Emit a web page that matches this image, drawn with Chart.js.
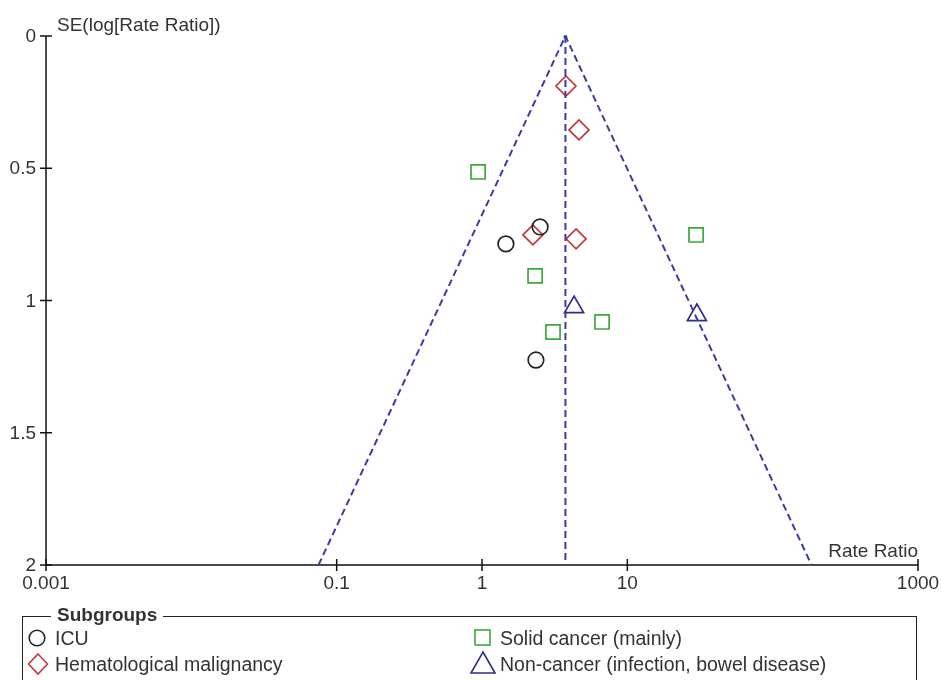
<!DOCTYPE html>
<html>
<head>
<meta charset="utf-8">
<script src="https://cdn.jsdelivr.net/npm/chart.js@4.4.1/dist/chart.umd.min.js"></script>
<style>
  body { margin: 0; background: #fff; font-family: Arial, "Liberation Sans", sans-serif; }
  #wrap { position: relative; width: 941px; height: 680px; overflow: hidden; }
  #legendBox { position: absolute; left: 22px; top: 616px; width: 895px; height: 80px; border: 1.5px solid #222; box-sizing: border-box; }
  #legendTitle { position: absolute; left: 51px; top: 604px; padding: 0 6px; background: #fff; font-weight: bold; font-size: 19px; color: #333; line-height: 22px; }
  .item { position: absolute; font-size: 19.5px; color: #333; line-height: 22px; white-space: nowrap; }
  .item svg { position: absolute; }
</style>
</head>
<body>
<div id="wrap">
  <canvas id="funnel" width="941" height="680"></canvas>
  <div id="legendBox"></div>
  <div id="legendTitle">Subgroups</div>
  <div class="item" style="left:55px; top:627px;"><svg width="20" height="20" style="left:-28px; top:1px;"><circle cx="10" cy="10" r="7.8" fill="none" stroke="#222" stroke-width="1.6"/></svg>ICU</div>
  <div class="item" style="left:55px; top:653px;"><svg width="24" height="24" style="left:-29px; top:-1px;"><path d="M12 2 L21.5 12 L12 22 L2.5 12 Z" fill="none" stroke="#c0393b" stroke-width="1.6"/></svg>Hematological malignancy</div>
  <div class="item" style="left:500px; top:627px;"><svg width="22" height="22" style="left:-28px; top:0px;"><rect x="3" y="3" width="15" height="15" fill="none" stroke="#3aaa3a" stroke-width="1.6"/></svg>Solid cancer (mainly)</div>
  <div class="item" style="left:500px; top:653px;"><svg width="28" height="26" style="left:-31px; top:-3px;"><path d="M14 2 L26 23 L2 23 Z" fill="none" stroke="#2e2e8c" stroke-width="1.6"/></svg>Non-cancer (infection, bowel disease)</div>
</div>
<script>
// funnel plot: rate ratio (x, log) vs SE of log rate ratio (y, reversed)
const icuRR = [2.51, 1.46, 2.35];
const icuSE = [0.722, 0.786, 1.225];
const hemRR = [3.78, 4.65, 2.24, 4.44];
const hemSE = [0.189, 0.355, 0.752, 0.767];
const solidRR = [0.94, 29.7, 2.32, 3.08, 6.70];
const solidSE = [0.514, 0.752, 0.907, 1.119, 1.081];
const nonRR = [4.30, 30.1];
const nonSE = [1.025, 1.055];

// pseudo confidence limits
const funnelRR = [0.075, 3.75, 185];
const funnelSE = [2, 0, 2];
const pooledRR = [3.75, 3.75];
const pooledSE = [0, 2];

const xTicks = [0.001, 0.1, 1, 10, 1000];
const xTickLabels = ['0.001', '0.1', '1', '10', '1000'];
const yTicks = [0, 0.5, 1, 1.5, 2];
const yTickLabels = ['0', '0.5', '1', '1.5', '2'];

function pts(xs, ys) {
  return xs.map(function (v, i) { return { x: v, y: ys[i] }; });
}

const navy = '#3b3ba6';
const textColor = '#333';
const font = '19px Arial, "Liberation Sans", sans-serif';

const axesPlugin = {
  id: 'axes',
  beforeDatasetsDraw(chart) {
    const ctx = chart.ctx;
    const a = chart.chartArea;
    const x = chart.scales.x;
    const y = chart.scales.y;
    ctx.save();
    ctx.strokeStyle = '#111';
    ctx.lineWidth = 1.5;
    ctx.beginPath();
    ctx.moveTo(a.left, a.top);
    ctx.lineTo(a.left, a.bottom);
    ctx.lineTo(a.right, a.bottom);
    ctx.stroke();

    ctx.font = font;
    ctx.fillStyle = textColor;

    // y ticks
    ctx.textAlign = 'right';
    ctx.textBaseline = 'middle';
    yTicks.forEach(function (v, i) {
      const py = y.getPixelForValue(v);
      ctx.beginPath();
      ctx.moveTo(a.left - 6, py);
      ctx.lineTo(a.left + 6, py);
      ctx.stroke();
      ctx.fillText(yTickLabels[i], a.left - 10, py + 1);
    });

    // x ticks
    ctx.textAlign = 'center';
    ctx.textBaseline = 'alphabetic';
    xTicks.forEach(function (v, i) {
      const px = x.getPixelForValue(v);
      ctx.beginPath();
      ctx.moveTo(px, a.bottom - 6);
      ctx.lineTo(px, a.bottom + 6);
      ctx.stroke();
      ctx.fillText(xTickLabels[i], px, a.bottom + 24);
    });

    // axis titles
    ctx.textAlign = 'left';
    ctx.fillText('SE(log[Rate Ratio])', a.left + 11, a.top - 5);
    ctx.textAlign = 'right';
    ctx.fillText('Rate Ratio', a.right, a.bottom - 8);

    // small mark at the apex
    ctx.fillStyle = navy;
    ctx.beginPath();
    ctx.arc(x.getPixelForValue(pooledRR[0]), y.getPixelForValue(pooledSE[0]) + 1, 2, 0, Math.PI * 2);
    ctx.fill();
    ctx.restore();
  }
};

new Chart(document.getElementById('funnel').getContext('2d'), {
  type: 'scatter',
  data: {
    datasets: [
      {
        label: 'funnel',
        type: 'line',
        data: pts(funnelRR, funnelSE),
        borderColor: navy,
        borderWidth: 2,
        borderDash: [7, 4],
        pointRadius: 0,
        fill: false
      },
      {
        label: 'pooled',
        type: 'line',
        data: pts(pooledRR, pooledSE),
        borderColor: navy,
        borderWidth: 2,
        borderDash: [7, 4],
        pointRadius: 0,
        fill: false
      },
      {
        label: 'ICU',
        data: pts(icuRR, icuSE),
        pointStyle: 'circle',
        pointRadius: 7.8,
        borderColor: '#222',
        backgroundColor: 'transparent',
        borderWidth: 1.7
      },
      {
        label: 'Hematological malignancy',
        data: pts(hemRR, hemSE),
        pointStyle: 'rectRot',
        pointRadius: 10,
        borderColor: '#c0393b',
        backgroundColor: 'transparent',
        borderWidth: 1.7
      },
      {
        label: 'Solid cancer (mainly)',
        data: pts(solidRR, solidSE),
        pointStyle: 'rect',
        pointRadius: 10,
        borderColor: '#3aaa3a',
        backgroundColor: 'transparent',
        borderWidth: 1.7
      },
      {
        label: 'Non-cancer (infection, bowel disease)',
        data: pts(nonRR, nonSE),
        pointStyle: 'triangle',
        pointRadius: 11,
        borderColor: '#2e2e8c',
        backgroundColor: 'transparent',
        borderWidth: 1.7
      }
    ]
  },
  options: {
    responsive: false,
    animation: false,
    layout: { padding: { left: 46, right: 23, top: 36, bottom: 115 } },
    scales: {
      x: { type: 'logarithmic', min: 0.001, max: 1000, display: false },
      y: { type: 'linear', min: 0, max: 2, reverse: true, display: false }
    },
    plugins: {
      legend: { display: false },
      tooltip: { enabled: false }
    },
    elements: { line: { tension: 0 } }
  },
  plugins: [axesPlugin]
});
</script>
</body>
</html>
